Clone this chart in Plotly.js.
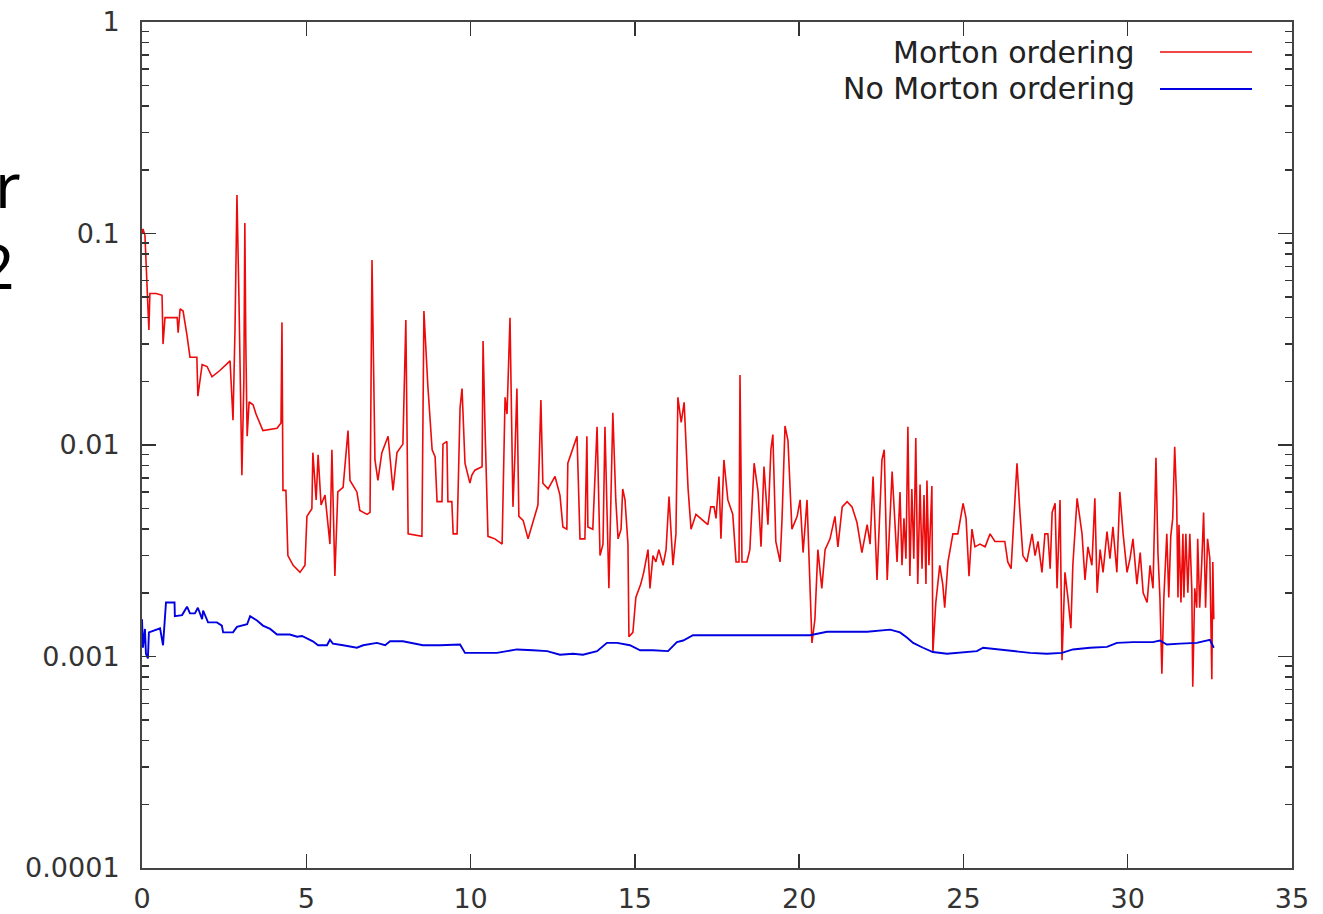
<!DOCTYPE html>
<html>
<head>
<meta charset="utf-8">
<script src="https://cdn.plot.ly/plotly-3.0.1.min.js"></script>
<style>html,body{margin:0;padding:0;background:#fff;}#chart{width:1323px;height:914px;}</style>
</head>
<body>
<div id="chart"></div>
<script>
// ---- data ----
const seriesNames = ["Morton ordering", "No Morton ordering"];

const xMorton = [0.00,0.03,0.09,0.12,0.15,0.18,0.21,0.24,0.43,0.61,0.64,0.70,1.07,1.10,1.16,1.25,1.37,1.46,1.67,1.70,1.83,1.98,2.13,2.37,2.68,2.77,2.83,2.89,2.95,3.01,3.04,3.10,3.13,3.16,3.20,3.26,3.38,3.47,3.68,4.11,4.23,4.26,4.29,4.38,4.44,4.60,4.81,4.96,5.02,5.17,5.20,5.30,5.36,5.45,5.57,5.72,5.78,5.87,5.96,6.12,6.27,6.33,6.54,6.63,6.85,6.94,7.00,7.09,7.18,7.30,7.49,7.64,7.76,7.94,8.03,8.10,8.52,8.58,8.70,8.83,8.92,8.98,9.13,9.16,9.28,9.31,9.43,9.47,9.59,9.68,9.74,9.83,9.98,10.04,10.13,10.35,10.38,10.44,10.53,10.74,10.96,11.05,11.11,11.20,11.29,11.35,11.41,11.47,11.60,11.75,11.90,12.05,12.14,12.20,12.36,12.57,12.72,12.81,12.93,12.96,13.24,13.33,13.48,13.54,13.57,13.72,13.85,13.94,14.03,14.09,14.21,14.33,14.42,14.49,14.58,14.63,14.70,14.79,14.82,14.94,15.03,15.18,15.27,15.40,15.46,15.55,15.64,15.73,15.86,15.95,16.04,16.16,16.25,16.31,16.41,16.50,16.62,16.71,16.86,17.07,17.22,17.31,17.41,17.47,17.56,17.62,17.71,17.83,17.98,18.08,18.17,18.20,18.26,18.41,18.50,18.63,18.75,18.84,18.93,19.05,19.14,19.20,19.29,19.42,19.48,19.57,19.66,19.78,19.94,20.03,20.12,20.24,20.39,20.48,20.57,20.69,20.79,20.94,21.09,21.18,21.31,21.46,21.61,21.76,21.91,22.07,22.16,22.25,22.37,22.52,22.59,22.68,22.83,22.98,23.07,23.13,23.19,23.25,23.31,23.37,23.43,23.49,23.55,23.61,23.68,23.74,23.80,23.86,23.89,23.95,24.01,24.04,24.07,24.16,24.28,24.37,24.43,24.53,24.68,24.83,24.99,25.08,25.17,25.26,25.35,25.50,25.66,25.81,25.96,26.11,26.26,26.35,26.45,26.51,26.63,26.72,26.81,26.93,27.09,27.18,27.27,27.39,27.48,27.57,27.64,27.70,27.79,27.85,27.94,28.00,28.09,28.18,28.27,28.33,28.46,28.61,28.70,28.79,28.91,29.00,29.07,29.16,29.25,29.37,29.46,29.55,29.67,29.76,29.86,29.98,30.07,30.16,30.28,30.38,30.47,30.59,30.68,30.77,30.86,30.92,30.98,31.04,31.10,31.19,31.25,31.31,31.37,31.43,31.49,31.53,31.56,31.62,31.68,31.71,31.77,31.83,31.89,31.95,31.98,32.04,32.10,32.13,32.19,32.25,32.31,32.37,32.43,32.50,32.56,32.59,32.62];
const yMorton = [0.1,0.105,0.098,0.07,0.055,0.045,0.035,0.052,0.052,0.051,0.030,0.040,0.040,0.034,0.044,0.043,0.033,0.026,0.026,0.017,0.024,0.0235,0.021,0.0225,0.025,0.0131,0.035,0.152,0.05,0.012,0.0072,0.02,0.112,0.03,0.011,0.016,0.0155,0.014,0.0117,0.012,0.0127,0.038,0.0061,0.0061,0.003,0.0027,0.0025,0.0027,0.0046,0.005,0.0092,0.0055,0.009,0.0052,0.0058,0.0034,0.0095,0.0024,0.006,0.0063,0.0117,0.0068,0.006,0.0049,0.0047,0.0048,0.075,0.0085,0.0068,0.0092,0.011,0.0061,0.0092,0.0101,0.039,0.0038,0.0037,0.043,0.019,0.0095,0.0088,0.0054,0.0054,0.0101,0.0104,0.0054,0.0054,0.0038,0.0038,0.015,0.0185,0.0082,0.0066,0.0072,0.0076,0.0079,0.031,0.012,0.0037,0.0036,0.0034,0.0168,0.014,0.040,0.0051,0.009,0.0185,0.0046,0.0044,0.0036,0.0043,0.0052,0.0163,0.0066,0.0062,0.0071,0.0058,0.0041,0.004,0.0082,0.011,0.0036,0.0036,0.011,0.0041,0.004,0.0122,0.003,0.0034,0.0122,0.0021,0.0142,0.0055,0.0036,0.004,0.0062,0.0055,0.0034,0.00124,0.0013,0.0019,0.0022,0.0025,0.0032,0.0021,0.003,0.0028,0.0032,0.0027,0.0032,0.0057,0.0027,0.0038,0.0168,0.0128,0.0159,0.0062,0.004,0.0047,0.0044,0.0042,0.0051,0.0051,0.0045,0.0071,0.0036,0.0085,0.0055,0.0047,0.0028,0.0028,0.0214,0.0028,0.0028,0.0032,0.0082,0.006,0.0033,0.0079,0.0042,0.0095,0.0112,0.0035,0.0028,0.0045,0.0123,0.0105,0.004,0.0046,0.0055,0.0031,0.0055,0.00116,0.0015,0.0032,0.0021,0.0032,0.0036,0.0046,0.0033,0.0051,0.0054,0.0051,0.0043,0.0031,0.0042,0.0034,0.0071,0.0023,0.0085,0.0095,0.0023,0.0075,0.0028,0.006,0.0027,0.0045,0.0029,0.0122,0.0024,0.0062,0.0029,0.0108,0.0022,0.0065,0.0026,0.0058,0.0022,0.0068,0.0027,0.0052,0.0064,0.00104,0.0018,0.0027,0.0022,0.0017,0.0028,0.0038,0.0038,0.0053,0.0045,0.0024,0.004,0.0033,0.0034,0.0033,0.0038,0.0035,0.0035,0.0035,0.0028,0.0026,0.0038,0.0082,0.0048,0.003,0.0028,0.0038,0.003,0.0035,0.0025,0.0038,0.0038,0.0026,0.0048,0.0053,0.0021,0.0055,0.00096,0.0025,0.0019,0.00136,0.0027,0.0056,0.0038,0.0023,0.0033,0.0027,0.0056,0.002,0.0032,0.0025,0.0039,0.0029,0.0041,0.0025,0.006,0.0038,0.0025,0.0029,0.0036,0.0022,0.0031,0.002,0.0018,0.0027,0.0021,0.0087,0.0031,0.0019,0.00083,0.0019,0.0038,0.0019,0.0037,0.0045,0.0098,0.0055,0.0019,0.0042,0.0018,0.0038,0.0019,0.0038,0.002,0.0038,0.0021,0.00072,0.0021,0.0017,0.0036,0.0017,0.0027,0.0048,0.0017,0.0036,0.0029,0.00078,0.0028,0.0015];

const xNoMorton = [0.00,0.03,0.09,0.12,0.18,0.21,0.55,0.64,0.73,0.99,1.00,1.22,1.37,1.46,1.61,1.70,1.83,1.86,2.01,2.28,2.43,2.47,2.77,2.89,3.20,3.29,3.50,3.68,3.90,4.11,4.50,4.72,4.87,5.02,5.20,5.36,5.63,5.72,5.81,6.12,6.54,6.73,7.15,7.40,7.55,7.94,8.25,8.55,9.07,9.68,9.83,10.29,10.80,11.11,11.41,11.90,12.33,12.72,13.12,13.42,13.85,14.15,14.46,14.85,15.16,15.55,16.01,16.28,16.47,16.77,17.20,17.99,19.02,20.03,20.33,20.85,22.07,22.77,23.07,23.28,23.47,23.77,24.07,24.50,24.90,25.41,25.60,26.11,26.51,27.03,27.54,28.00,28.33,28.85,29.37,29.67,30.16,30.77,30.98,31.19,31.59,32.10,32.50,32.62];
const yNoMorton = [0.0015,0.0011,0.00135,0.00103,0.00098,0.0013,0.00136,0.00113,0.0018,0.0018,0.00155,0.00157,0.00172,0.0016,0.0016,0.0017,0.0015,0.00165,0.00145,0.00145,0.0014,0.0013,0.0013,0.00138,0.00142,0.00155,0.00148,0.0014,0.00135,0.00127,0.00127,0.00124,0.00125,0.00122,0.00118,0.00113,0.00113,0.0012,0.00115,0.00113,0.0011,0.00113,0.00116,0.00113,0.00118,0.00118,0.00115,0.00113,0.00113,0.00114,0.00104,0.00104,0.00104,0.00106,0.00108,0.00107,0.00106,0.00102,0.00103,0.00102,0.00106,0.00116,0.00116,0.00113,0.00107,0.00107,0.00106,0.00117,0.00119,0.00126,0.00126,0.00125,0.00125,0.00126,0.00126,0.00131,0.00131,0.00134,0.0013,0.00123,0.00116,0.0011,0.00105,0.00103,0.00104,0.00106,0.0011,0.00108,0.00106,0.00104,0.00103,0.00104,0.00108,0.0011,0.00111,0.00116,0.00117,0.00117,0.00119,0.00114,0.00115,0.00116,0.0012,0.0011];

const xTickVals = [0,5,10,15,20,25,30,35];
const yTickVals = [0.0001,0.001,0.01,0.1,1];
const yTickText = ["0.0001","0.001","0.01","0.1","1"];
const yMinorVals = [];
for (const d of [0.0001,0.001,0.01,0.1]) for (let k=2;k<=9;k++) yMinorVals.push(+(d*k).toPrecision(3));

const cutTitleLines = ["r","2"];

// ---- styling ----
const W = 1323, H = 914;
const M = {l:142, r:31, t:22, b:46};
const pw = W - M.l - M.r, ph = H - M.t - M.b;
const px2paperX = p => (p - M.l) / pw;
const py2paperY = p => (H - M.b - p) / ph;

const colors = ["rgb(238,10,10)", "rgb(0,0,225)"];
const tickFont = {family:"DejaVu Sans, sans-serif", size:27, color:"#333"};

const traces = [
  {x:xMorton, y:yMorton, type:"scatter", mode:"lines", name:seriesNames[0],
   line:{color:colors[0], width:1.6}, showlegend:false},
  {x:xNoMorton, y:yNoMorton, type:"scatter", mode:"lines", name:seriesNames[1],
   line:{color:colors[1], width:1.9}, showlegend:false}
];

const legendY = [52, 89];
const annotations = seriesNames.map((n,i)=>({
  text:n, xref:"paper", yref:"paper", x:px2paperX(1137), y:py2paperY(legendY[i]),
  xanchor:"right", yanchor:"middle", showarrow:false,
  font:{family:"DejaVu Sans, sans-serif", size:30, color:"#222"}
}));
// large, partly cropped text at the left edge of the reference (two lines, one text block)
annotations.push({text:cutTitleLines[0] + "<br>" + cutTitleLines[1] + "\u200A", xref:"paper", yref:"paper",
  x:px2paperX(23), y:py2paperY(224), xanchor:"right", yanchor:"middle", align:"right", showarrow:false,
  font:{family:"Noto Sans, sans-serif", size:62, color:"#000"}});

const shapes = legendY.map((yy,i)=>({
  type:"line", xref:"paper", yref:"paper",
  x0:px2paperX(1160), x1:px2paperX(1252), y0:py2paperY(yy), y1:py2paperY(yy),
  line:{color:colors[i], width: i===0 ? 1.6 : 2}
}));

const layout = {
  width:W, height:H, margin:M,
  paper_bgcolor:"#fff", plot_bgcolor:"#fff",
  showlegend:false,
  xaxis:{range:[0,35], tickmode:"array", tickvals:xTickVals, ticktext:xTickVals.map(String),
    ticks:"inside", ticklen:14, tickwidth:1.5, tickcolor:"#333",
    showline:true, linecolor:"#444", linewidth:2, mirror:"ticks",
    showgrid:false, zeroline:false, tickfont:tickFont, ticklabelstandoff:6},
  yaxis:{type:"log", range:[-4,0], tickmode:"array", tickvals:yTickVals, ticktext:yTickText,
    ticks:"inside", ticklen:14, tickwidth:1.5, tickcolor:"#333",
    minor:{tickmode:"array", tickvals:yMinorVals, ticks:"inside", ticklen:7, tickwidth:1.5, tickcolor:"#333", showgrid:false},
    showline:true, linecolor:"#444", linewidth:2, mirror:"ticks",
    showgrid:false, zeroline:false, tickfont:tickFont, ticklabelstandoff:15},
  annotations:annotations, shapes:shapes
};

Plotly.newPlot("chart", traces, layout, {displayModeBar:false, staticPlot:true});
</script>
</body>
</html>
